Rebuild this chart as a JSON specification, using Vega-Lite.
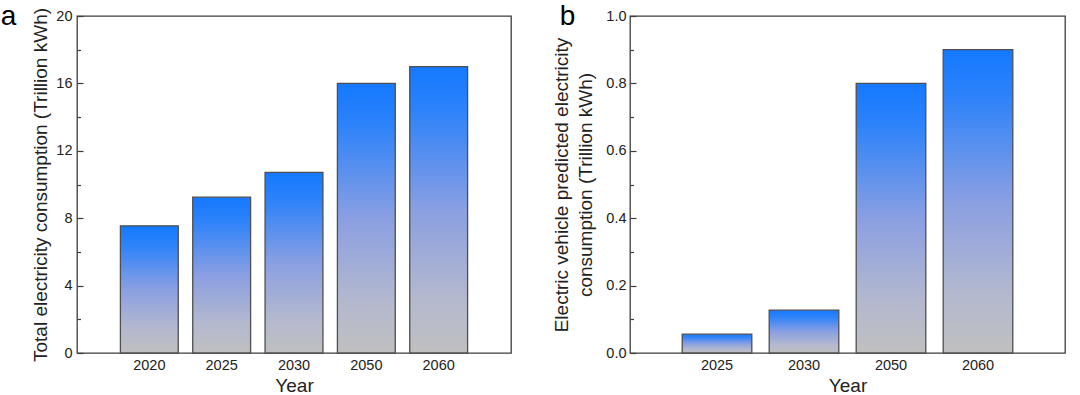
{
  "$schema": "https://vega.github.io/schema/vega-lite/v6.json",
  "padding": {"left": 0, "top": 2, "right": 0, "bottom": 0},
  "background": "white",
  "spacing": 40,
  "config": {
    "font": "Liberation Sans",
    "view": {"stroke": "#3c3c3c", "strokeWidth": 1.3},
    "axis": {
      "domain": false,
      "grid": false,
      "zindex": 1,
      "labelFont": "Liberation Sans",
      "labelFontSize": 14.5,
      "labelColor": "#222222",
      "titleFont": "Liberation Sans",
      "titleFontSize": 19,
      "titleFontWeight": "normal",
      "titleColor": "#222222",
      "tickColor": "#3c3c3c",
      "tickWidth": 1.2,
      "tickSize": -6
    }
  },
  "hconcat": [
    {
      "width": 434,
      "height": 337,
      "title": {"text": "a", "orient": "left", "angle": 0, "anchor": "end", "frame": "group", "align": "right", "baseline": "alphabetic", "offset": 0, "dy": 9, "fontSize": 28, "fontWeight": "normal", "color": "#000000", "font": "Liberation Sans"},
      "data": {"values": [
        {"year": "2020", "value": 7.55},
        {"year": "2025", "value": 9.25},
        {"year": "2030", "value": 10.72},
        {"year": "2050", "value": 16.0},
        {"year": "2060", "value": 17.0}
      ]},
      "mark": {
        "type": "bar",
        "stroke": "#4f4f4f",
        "strokeWidth": 1.3,
        "fill": {"gradient": "linear", "x1": 0, "y1": 0, "x2": 0, "y2": 1, "stops": [
          {"offset": 0, "color": "#1479ff"},
          {"offset": 0.15, "color": "#2c82fa"},
          {"offset": 0.5, "color": "#8a9fe2"},
          {"offset": 0.8, "color": "#b3b8cf"},
          {"offset": 1, "color": "#c0c0c0"}
        ]}
      },
      "encoding": {
        "x": {
          "field": "year", "type": "ordinal", "title": "Year",
          "scale": {"paddingInner": 0.2, "paddingOuter": 0.6},
          "axis": {"labelAngle": 0, "labelPadding": 11, "titlePadding": 5}
        },
        "y": {
          "field": "value", "type": "quantitative",
          "title": "Total electricity consumption (Trillion kWh)",
          "scale": {"domain": [0, 20], "nice": false},
          "axis": {
            "values": [0, 2, 4, 6, 8, 10, 12, 14, 16, 18, 20],
            "labelExpr": "round(datum.value) % 4 === 0 ? datum.label : ''",
            "labelPadding": 11, "titlePadding": 5,
            "tickDash": {"condition": {"test": "round(datum.value) % 4 !== 0", "value": [3.5, 20]}, "value": [20, 0]}
          }
        }
      }
    },
    {
      "width": 435,
      "height": 337,
      "title": {"text": "b", "orient": "left", "angle": 0, "anchor": "end", "frame": "group", "align": "right", "baseline": "alphabetic", "offset": -38, "dy": 9, "fontSize": 28, "fontWeight": "normal", "color": "#000000", "font": "Liberation Sans"},
      "data": {"values": [
        {"year": "2025", "value": 0.056},
        {"year": "2030", "value": 0.127},
        {"year": "2050", "value": 0.8},
        {"year": "2060", "value": 0.9}
      ]},
      "mark": {
        "type": "bar",
        "stroke": "#4f4f4f",
        "strokeWidth": 1.3,
        "fill": {"gradient": "linear", "x1": 0, "y1": 0, "x2": 0, "y2": 1, "stops": [
          {"offset": 0, "color": "#1479ff"},
          {"offset": 0.15, "color": "#2c82fa"},
          {"offset": 0.5, "color": "#8a9fe2"},
          {"offset": 0.8, "color": "#b3b8cf"},
          {"offset": 1, "color": "#c0c0c0"}
        ]}
      },
      "encoding": {
        "x": {
          "field": "year", "type": "ordinal", "title": "Year",
          "scale": {"paddingInner": 0.2, "paddingOuter": 0.6},
          "axis": {"labelAngle": 0, "labelPadding": 11, "titlePadding": 5}
        },
        "y": {
          "field": "value", "type": "quantitative",
          "title": ["Electric vehicle predicted electricity", "consumption (Trillion kWh)"],
          "scale": {"domain": [0, 1], "nice": false},
          "axis": {
            "values": [0, 0.1, 0.2, 0.3, 0.4, 0.5, 0.6, 0.7, 0.8, 0.9, 1.0],
            "labelExpr": "round(datum.value * 10) % 2 === 0 ? format(datum.value, '.1f') : ''",
            "labelPadding": 10, "titlePadding": 10, "titleLineHeight": 24,
            "tickDash": {"condition": {"test": "round(datum.value * 10) % 2 !== 0", "value": [3.5, 20]}, "value": [20, 0]}
          }
        }
      }
    }
  ]
}
